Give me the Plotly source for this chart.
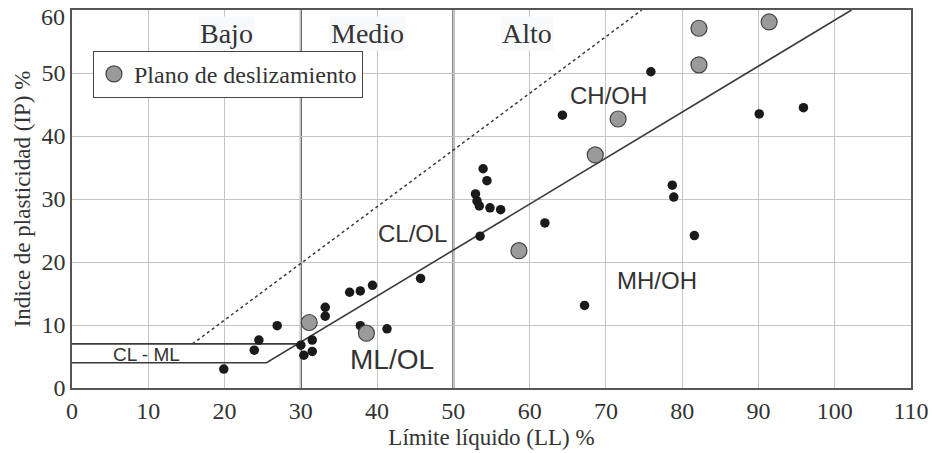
import plotly.graph_objects as go

# Data
plano_ll = [31.1, 38.6, 58.6, 68.6, 71.6, 82.2, 82.2, 91.4]
plano_ip = [10.4, 8.7, 21.8, 37.0, 42.7, 57.1, 51.3, 58.1]

muestras_ll = [19.9, 23.9, 24.5, 26.9, 30.0, 30.4, 31.5, 31.5, 33.2, 33.2, 36.4, 37.8, 39.4,
               37.8, 41.3, 45.7, 53.9, 54.4, 52.9, 53.1, 53.4, 54.8, 56.2, 53.5, 62.0,
               64.3, 75.9, 78.7, 78.9, 90.1, 95.9, 67.2, 81.6]
muestras_ip = [3.0, 6.0, 7.6, 9.9, 6.8, 5.2, 7.6, 5.8, 12.8, 11.4, 15.2, 15.4, 16.3,
               9.9, 9.4, 17.4, 34.8, 32.9, 30.8, 29.7, 28.9, 28.6, 28.3, 24.1, 26.2,
               43.3, 50.2, 32.2, 30.3, 43.5, 44.5, 13.1, 24.2]

# Reference lines (Casagrande chart)
a_line_ll = [0, 25.5, 102.2]
a_line_ip = [4, 4, 60]
u_line_ll = [15.8, 74.7]
u_line_ip = [7, 60]
cl_ml_ll = [0, 29.6]
cl_ml_ip = [7, 7]

x_ticks = list(range(0, 111, 10))
y_ticks = list(range(0, 61, 10))
y_ticktext = [str(v) for v in y_ticks[:-1]] + [""]  # top label drawn separately
y_top_label = str(y_ticks[-1])

serif = "Liberation Serif"
sans = "Liberation Sans"
dark = "#3a3a3a"

fig = go.Figure()

fig.add_trace(go.Scatter(x=u_line_ll, y=u_line_ip, mode="lines",
                         line=dict(color=dark, width=1.5, dash="dot"),
                         showlegend=False, hoverinfo="skip"))
fig.add_trace(go.Scatter(x=a_line_ll, y=a_line_ip, mode="lines",
                         line=dict(color=dark, width=1.6),
                         showlegend=False, hoverinfo="skip"))
fig.add_trace(go.Scatter(x=cl_ml_ll, y=cl_ml_ip, mode="lines",
                         line=dict(color=dark, width=1.6),
                         showlegend=False, hoverinfo="skip"))
fig.add_trace(go.Scatter(x=muestras_ll, y=muestras_ip, mode="markers",
                         marker=dict(color="#1a1a1a", size=9.5),
                         showlegend=False))
fig.add_trace(go.Scatter(x=plano_ll, y=plano_ip, mode="markers",
                         marker=dict(color="#9a9a9a", size=16,
                                     line=dict(color="#444444", width=1.2)),
                         name="Plano de deslizamiento", showlegend=True))

# Vertical dividers
for xv in [30, 50]:
    fig.add_shape(type="line", x0=xv, x1=xv, y0=0, y1=60, xref="x", yref="y",
                  line=dict(color="#4a4a4a", width=2), layer="below")

# Zone labels
for txt, xv in [("Bajo", 20.3), ("Medio", 38.7), ("Alto", 59.7)]:
    fig.add_annotation(x=xv, y=56.3, text=txt, showarrow=False,
                       font=dict(family=serif, size=28, color="#333333"),
                       bgcolor="#f7f9fb")

for txt, xv, yv, sz in [("CH/OH", 70.3, 46.5, 24), ("CL/OL", 44.6, 24.5, 24),
                        ("MH/OH", 76.7, 17.1, 24), ("ML/OL", 42.0, 4.5, 28),
                        ("CL - ML", 9.8, 5.3, 19)]:
    fig.add_annotation(x=xv, y=yv, text=txt, showarrow=False,
                       font=dict(family=sans, size=sz, color="#333333"))

# Top y tick label (shifted slightly down, as in the original)
fig.add_annotation(x=0, xref="paper", y=y_ticks[-1], yref="y", text=y_top_label,
                   showarrow=False, xanchor="right", xshift=-5, yshift=-7,
                   font=dict(family=serif, size=24, color="#333333"))

fig.update_layout(
    width=932, height=453,
    margin=dict(l=72, r=21, t=10, b=65),
    paper_bgcolor="white", plot_bgcolor="white",
    legend=dict(x=0.025, y=0.892, xanchor="left", yanchor="top",
                bgcolor="white", bordercolor="#444444", borderwidth=1,
                font=dict(family=serif, size=24, color="#333333"),
                itemwidth=30, tracegroupgap=0),
    xaxis=dict(range=[0, 110], tickvals=x_ticks, showgrid=True, automargin=False,
               ticklabeloverflow="allow",
               gridcolor="#c4c4c4", gridwidth=1.2, zeroline=False,
               showline=True, linecolor="#555555", linewidth=1.5, mirror=True,
               tickfont=dict(family=serif, size=24, color="#333333"),
               title=dict(text="Límite líquido (LL) %", standoff=6,
                          font=dict(family=serif, size=23, color="#333333"))),
    yaxis=dict(range=[0, 60], tickvals=y_ticks, ticktext=y_ticktext,
               showgrid=True, automargin=False,
               ticklabeloverflow="allow",
               gridcolor="#c4c4c4", gridwidth=1.2, zeroline=False,
               showline=True, linecolor="#555555", linewidth=1.5, mirror=True,
               tickfont=dict(family=serif, size=24, color="#333333"),
               title=dict(text="Indice de plasticidad (IP) %", standoff=4,
                          font=dict(family=serif, size=23, color="#333333"))),
)

fig.write_html("out.html")
